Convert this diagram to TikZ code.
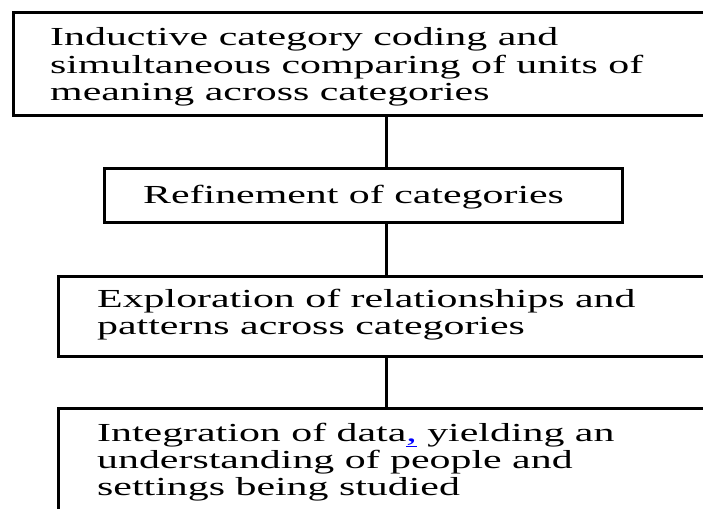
\documentclass[tikz,border=0pt]{standalone}
\usepackage{fontspec}
\setmainfont{Liberation Serif}
\usepackage{xcolor}
\newcommand{\wide}[1]{\scalebox{1.61}[1]{\begin{tabular}[t]{@{}l@{}}#1\end{tabular}}}
\begin{document}
\begin{tikzpicture}[x=1pt,y=-1pt,
  box/.style={draw=black, line width=2.6pt, rectangle, inner sep=0pt, anchor=north west},
  txt/.style={inner sep=0pt, anchor=base west, font=\fontsize{26}{27.3}\selectfont},
  link/.style={draw=black, line width=3pt}]
\useasboundingbox (0,0) rectangle (703,508);
\clip (0,0) rectangle (703,508);
\fill[white] (0,0) rectangle (703,508);
\coordinate (spine) at (386,0);
\node[box, minimum width=710pt, minimum height=103pt] (b1) at (12,11) {};
\node[box, minimum width=518pt, minimum height=54pt] (b2) at (103,167) {};
\node[box, minimum width=665pt, minimum height=80pt] (b3) at (57,275) {};
\node[box, minimum width=665pt, minimum height=140pt] (b4) at (57,407) {};
\node[txt] (t1) at (50,46) {\wide{Inductive category coding and\\simultaneous comparing of units of\\meaning across categories}};
\node[txt] (t2) at (143,203) {\wide{Refinement of categories}};
\node[txt] (t3) at (97,307) {\wide{Exploration of relationships and\\patterns across categories}};
\node[txt] (t4) at (97,441) {\wide{Integration of data{\color{blue}\underline{,}} yielding an\\understanding of people and\\settings being studied}};
\draw[link] (b1.south -| spine) -- (b2.north -| spine);
\draw[link] (b2.south -| spine) -- (b3.north -| spine);
\draw[link] (b3.south -| spine) -- (b4.north -| spine);
\end{tikzpicture}
\end{document}
